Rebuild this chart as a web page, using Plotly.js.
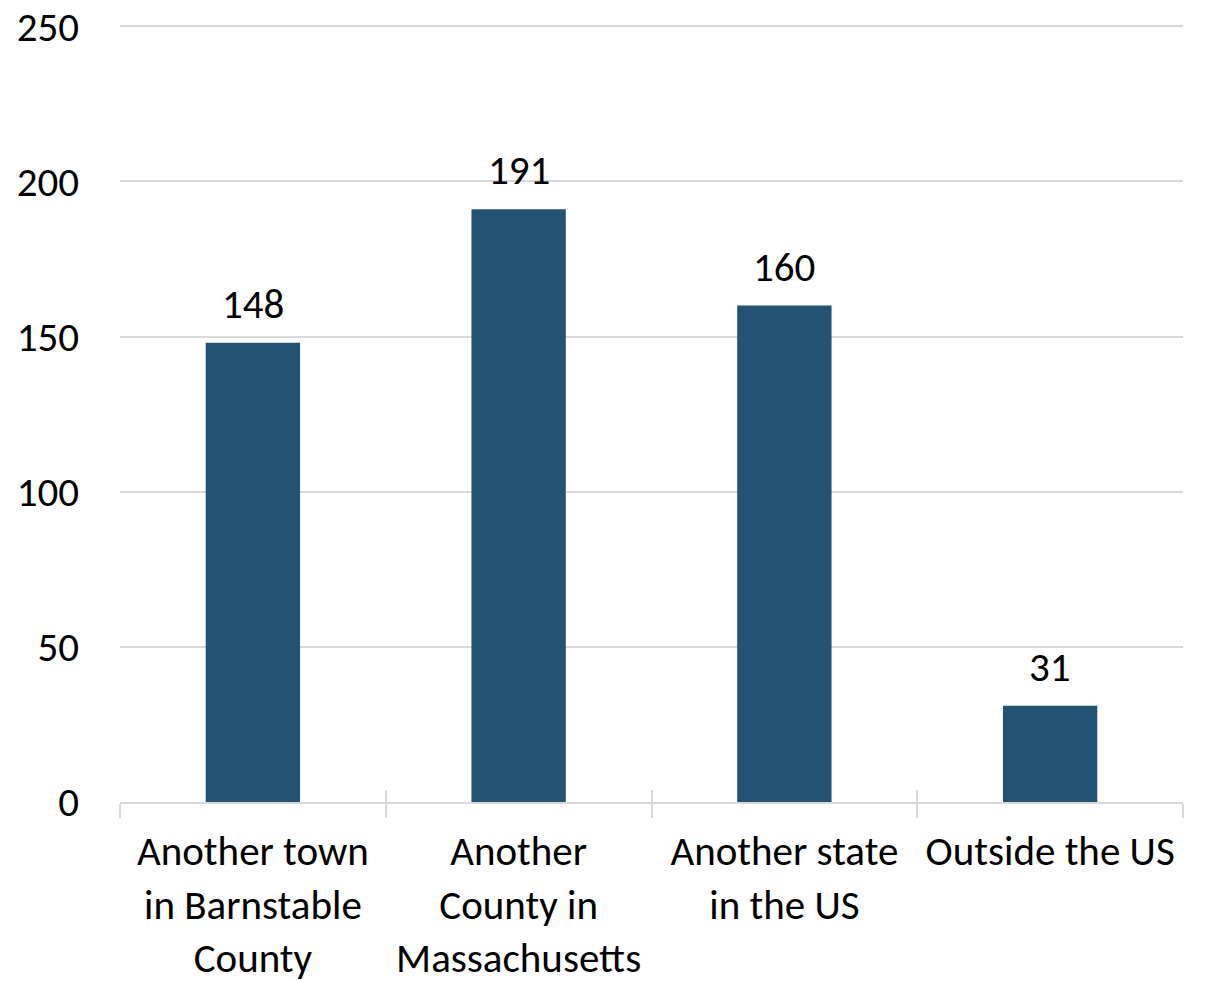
<!DOCTYPE html>
<html>
<head>
<meta charset="utf-8">
<script src="https://cdn.plot.ly/plotly-3.0.1.min.js"></script>
<style>html,body{margin:0;padding:0;background:#fff;}#chart{width:1211px;height:983px;}</style>
</head>
<body>
<div id="chart"></div>
<script>
const categories = ["Another town<br>in Barnstable<br>County", "Another<br>County in<br>Massachusetts", "Another state<br>in the US", "Outside the US"];
const values = [148, 191, 160, 31];
const yTicks = [0, 50, 100, 150, 200, 250];

const FONT = "Carlito, Lato, sans-serif";

const data = [{
  type: "bar",
  x: categories,
  y: values,
  marker: {color: "#235273"},
  width: 0.355,
  hoverinfo: "none"
}, {
  type: "bar", x: categories, y: [null, null, null, null], xaxis: "x2", showlegend: false, hoverinfo: "none"
}];

const annotations = categories.map((c, i) => ({
  x: c, y: values[i], xref: "x", yref: "y",
  text: String(values[i]), showarrow: false,
  yanchor: "bottom", yshift: 12,
  font: {family: FONT, size: 41, color: "#000"}
}));

const layout = {
  width: 1211, height: 983,
  margin: {l: 120, r: 28, t: 25, b: 181},
  paper_bgcolor: "#fff", plot_bgcolor: "#fff",
  showlegend: false,
  font: {family: FONT, size: 41, color: "#000"},
  annotations: annotations,
  xaxis: {
    type: "category",
    categoryorder: "array", categoryarray: categories,
    range: [-0.5, 3.5],
    showline: true, linecolor: "#d9d9d9", linewidth: 2,
    ticks: "outside", tickson: "boundaries", ticklen: 14, tickcolor: "#d9d9d9", tickwidth: 2,
    showgrid: false,
    tickfont: {family: FONT, size: 41, color: "#000"},
    ticklabelstandoff: 12
  },
  xaxis2: {
    type: "category", overlaying: "x",
    categoryorder: "array", categoryarray: categories,
    range: [-0.5, 3.5],
    ticks: "inside", tickson: "boundaries", ticklen: 12, tickcolor: "#d9d9d9", tickwidth: 2,
    showticklabels: false, showgrid: false, showline: false, side: "bottom", anchor: "y"
  },
  yaxis: {
    range: [0, 250.4],
    tickvals: yTicks,
    showgrid: true, gridcolor: "#d9d9d9", gridwidth: 2,
    zeroline: false, showline: false,
    ticks: "", ticklabelstandoff: 40,
    tickfont: {family: FONT, size: 41, color: "#000"}
  },
  bargap: 0.2
};

Plotly.newPlot("chart", data, layout, {staticPlot: true, displayModeBar: false});
</script>
</body>
</html>
